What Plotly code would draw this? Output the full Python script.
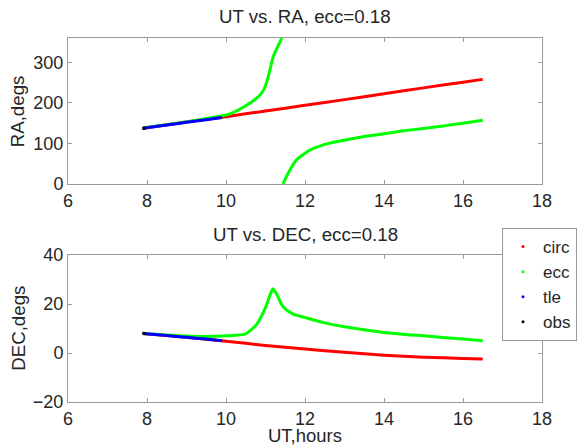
import plotly.graph_objects as go

# ---------------- data ----------------
# RA vs UT
circ_ut = [7.9, 9.0, 10.0, 11.0, 12.0, 13.0, 14.0, 15.0, 16.0, 16.5]
circ_ra = [137.5, 153.0, 166.0, 180.0, 194.0, 208.0, 222.5, 237.0, 251.0, 258.0]

ecc_ut = [7.9, 8.5, 9.0, 9.5, 10.1, 10.52, 10.85, 10.97, 11.05, 11.11, 11.19, 11.32, 11.41,
          None,
          11.44, 11.5, 11.57, 11.68, 11.78, 12.0, 12.2, 12.6, 13.0, 13.5, 14.0, 14.5,
          15.0, 15.5, 16.0, 16.5]
ecc_ra = [138.0, 146.0, 153.5, 161.5, 173.0, 194.0, 218.0, 235.0, 258.0, 280.0, 312.0, 341.0, 360.0,
          None,
          0.0, 12.0, 26.0, 45.0, 59.0, 76.0, 87.0, 100.0, 108.0, 117.0, 124.0, 131.0,
          137.0, 143.0, 150.0, 157.0]

tle_ut = [7.9, 8.5, 9.0, 9.5, 9.9]
tle_ra = [137.5, 145.5, 152.0, 158.5, 164.0]

obs_ut = [7.88, 7.96]
obs_ra = [137.0, 138.0]

# DEC vs UT
circ_dec_ut = [7.9, 9.0, 10.0, 11.0, 12.0, 13.0, 14.0, 15.0, 16.0, 16.5]
circ_dec = [8.0, 6.4, 4.8, 3.1, 1.6, 0.3, -0.9, -1.7, -2.2, -2.4]

ecc_dec_ut = [7.9, 8.5, 9.0, 9.5, 10.0, 10.5, 10.78, 11.0, 11.1, 11.19, 11.3, 11.4,
              11.5, 11.7, 12.0, 12.5, 13.0, 14.0, 15.0, 16.0, 16.5]
ecc_dec = [8.0, 7.4, 6.9, 6.7, 7.0, 7.8, 11.8, 18.6, 23.0, 26.2, 23.5, 20.0,
           18.0, 15.9, 14.5, 12.3, 10.7, 8.4, 7.0, 5.7, 5.0]

tle_dec_ut = [7.9, 8.5, 9.0, 9.5, 9.9]
tle_dec = [8.0, 7.1, 6.4, 5.7, 5.0]

obs_dec_ut = [7.88, 7.96]
obs_dec = [8.1, 8.0]

names = ["circ", "ecc", "tle", "obs"]
colors = ["#ff0000", "#00ff00", "#0000ff", "#000000"]

x_ticks = [6, 8, 10, 12, 14, 16, 18]
ra_ticks = [0, 100, 200, 300]
dec_ticks = [-20, 0, 20, 40]

# ---------------- figure ----------------
FONT = "Liberation Sans, Arial, sans-serif"
AX = "#9a9a9a"
TXT = "#262626"
ML, MR, MT, MB = 68, 35, 38, 44
W, H = 577, 446
PW = W - ML - MR

fig = go.Figure()

ra_sets = [(circ_ut, circ_ra), (ecc_ut, ecc_ra), (tle_ut, tle_ra), (obs_ut, obs_ra)]
dec_sets = [(circ_dec_ut, circ_dec), (ecc_dec_ut, ecc_dec), (tle_dec_ut, tle_dec),
            (obs_dec_ut, obs_dec)]

for (xs, ys), c in zip(ra_sets, colors):
    fig.add_trace(go.Scatter(x=xs, y=ys, mode="lines",
                             line=dict(color=c, width=3, shape="spline", smoothing=0.6),
                             showlegend=False, xaxis="x", yaxis="y", hoverinfo="skip",
                             connectgaps=False))
for (xs, ys), c in zip(dec_sets, colors):
    fig.add_trace(go.Scatter(x=xs, y=ys, mode="lines",
                             line=dict(color=c, width=3, shape="spline", smoothing=0.6),
                             showlegend=False, xaxis="x2", yaxis="y2", hoverinfo="skip"))
# legend entries (dot markers as in the original)
for n, c in zip(names, colors):
    fig.add_trace(go.Scatter(x=[None], y=[None], mode="markers", name=n,
                             marker=dict(color=c, size=3), xaxis="x2", yaxis="y2"))

axis_common = dict(showline=True, linecolor=AX, linewidth=1, mirror="ticks",
                   ticks="inside", ticklen=4, tickcolor=AX, tickwidth=1,
                   showgrid=False, zeroline=False,
                   tickfont=dict(family=FONT, size=18, color=TXT))

fig.update_layout(
    width=W, height=H,
    margin=dict(l=ML, r=MR, t=MT, b=MB, autoexpand=False),
    paper_bgcolor="white", plot_bgcolor="white",
    font=dict(family=FONT, color=TXT),
    xaxis=dict(domain=[0, 1], anchor="y", range=[6, 18], tickvals=x_ticks, **axis_common),
    yaxis=dict(domain=[0.599, 1], anchor="x", range=[0, 360], tickvals=ra_ticks,
               **axis_common),
    xaxis2=dict(domain=[0, 1], anchor="y2", range=[6, 18], tickvals=x_ticks, **axis_common),
    yaxis2=dict(domain=[0, 0.4038], anchor="x2", range=[-20, 40], tickvals=dec_ticks,
                **axis_common),
    legend=dict(xref="paper", yref="paper", x=(502 - ML) / PW,
                y=(H - MB - 228) / (H - MT - MB),
                xanchor="left", yanchor="top", bgcolor="white", bordercolor=AX,
                borderwidth=1, font=dict(family=FONT, size=17, color=TXT),
                itemsizing="trace"),
    showlegend=True,
)

ann = dict(showarrow=False, font=dict(family=FONT, size=18.7, color=TXT))
fig.add_annotation(text="UT vs. RA, ecc=0.18", xref="paper", yref="paper",
                   x=0.5, y=1, yanchor="middle", yshift=38 - 16.7, **ann)
fig.add_annotation(text="UT vs. DEC, ecc=0.18", xref="paper", yref="paper",
                   x=0.5, y=0.4038, yanchor="middle", yshift=255 - 234.3, **ann)
fig.add_annotation(text="RA,degs", xref="paper", yref="paper", x=0, y=(0.599 + 1) / 2,
                   xanchor="center", yanchor="middle", xshift=-(68 - 18.3), textangle=-90,
                   **ann)
fig.add_annotation(text="DEC,degs", xref="paper", yref="paper", x=0, y=0.4038 / 2,
                   xanchor="center", yanchor="middle", xshift=-(68 - 18.3), textangle=-90,
                   **ann)
fig.add_annotation(text="UT,hours", xref="paper", yref="paper", x=0.5, y=0,
                   xanchor="center", yanchor="middle", yshift=-(435 - 402),
                   showarrow=False, borderpad=0,
                   font=dict(family=FONT, size=18.5, color=TXT))

# remove the browser's default page margin so the figure sits at the window origin
fig.write_html("out.html", config={"displayModeBar": False},
               post_script="document.body.style.margin='0';document.body.style.overflow='hidden';")
